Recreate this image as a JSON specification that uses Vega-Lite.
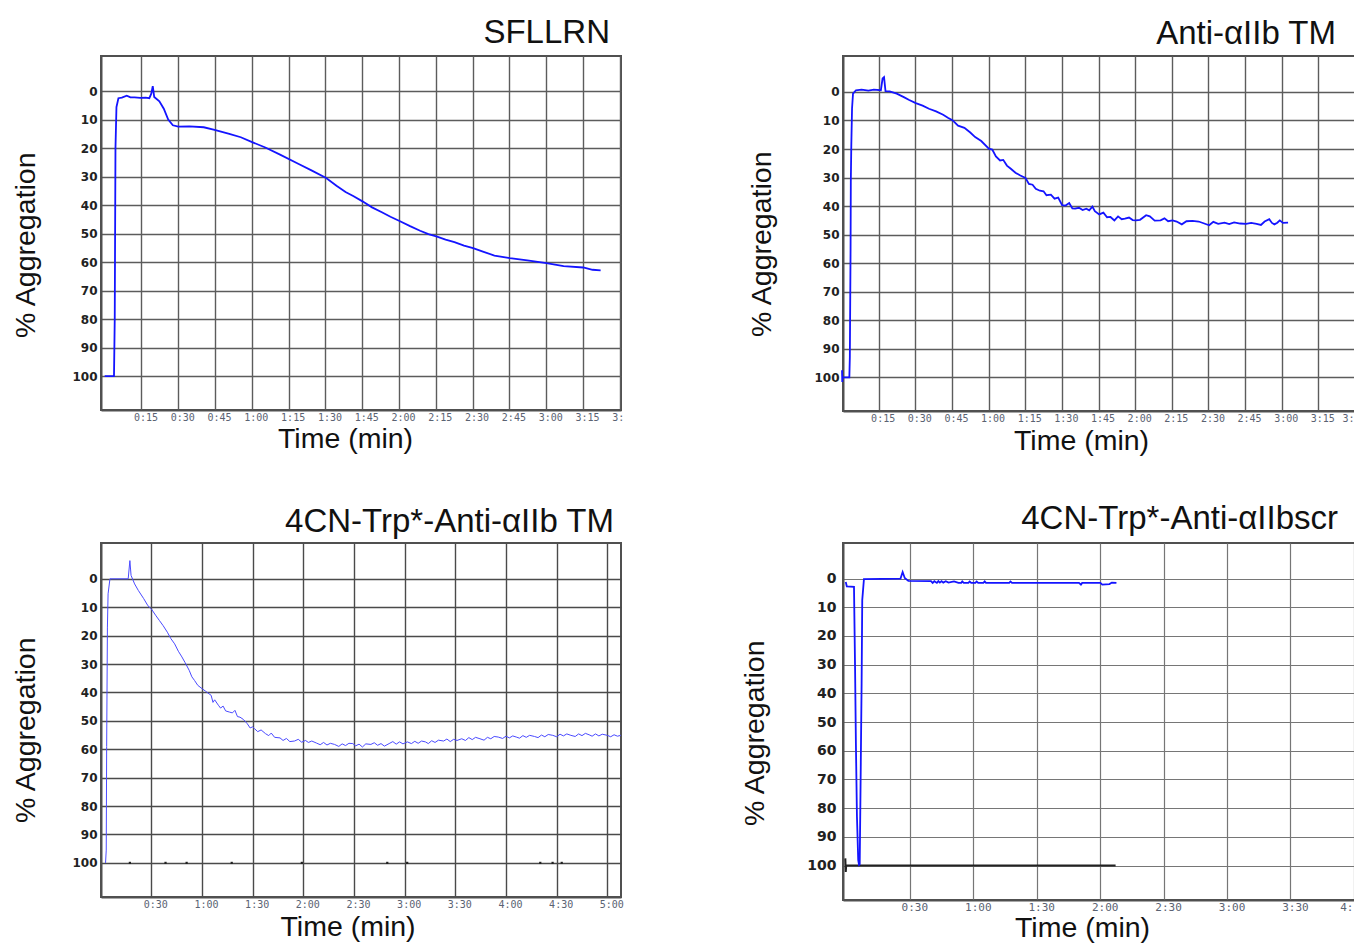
{
  "$schema": "https://vega.github.io/schema/vega-lite/v6.json",
  "background": "white",
  "padding": {"left": 10, "top": 15, "right": 0, "bottom": 0},
  "columns": 2,
  "spacing": {"row": 132, "column": 222},
  "bounds": "flush",
  "align": "each",
  "config": {
    "view": {"stroke": "#505050", "strokeWidth": 2, "fill": "white"},
    "axis": {"zindex": 1, "grid": true, "gridColor": "#5c5c5c", "gridWidth": 1.4, "gridOpacity": 1, "ticks": false, "domain": true, "domainColor": "#505050", "domainWidth": 2, "labelOverlap": false, "labelBound": false, "labelFlush": false, "titleFontWeight": "normal", "titleColor": "#111111", "titleFont": "Liberation Sans", "titleFontSize": 28.5},
    "axisX": {"labelFont": "DejaVu Sans Mono", "labelFontSize": 10, "labelColor": "#5a6272", "labelPadding": 2, "labelBaseline": "top", "titleBaseline": "alphabetic", "titleAlign": "center", "titleAngle": 0},
    "axisY": {"labelFont": "DejaVu Sans", "labelFontWeight": "bold", "labelFontSize": 12, "labelColor": "#222222", "labelPadding": 4, "titleAngle": -90, "titleAlign": "center", "titleBaseline": "alphabetic"},
    "title": {"font": "Liberation Sans", "fontSize": 33, "fontWeight": "normal", "anchor": "end", "frame": "group", "color": "#111111", "baseline": "alphabetic"}
  },
  "datasets": {
    "sfllrn": [
      {"t": 0, "v": 100}, {"t": 3.8, "v": 100}, {"t": 4.1, "v": 80}, {"t": 4.4, "v": 20}, {"t": 4.8, "v": 5.6}, {"t": 5.6, "v": 2.5}, {"t": 7, "v": 2.3}, {"t": 9, "v": 1.6}, {"t": 10.5, "v": 2.2}, {"t": 12.2, "v": 2.2}, {"t": 14.5, "v": 2.4}, {"t": 16.7, "v": 2.3}, {"t": 18.2, "v": 2.5}, {"t": 19, "v": 0.9}, {"t": 19.6, "v": -1.75}, {"t": 20.2, "v": 2.1}, {"t": 22.3, "v": 3.6}, {"t": 24.1, "v": 6.2}, {"t": 25.9, "v": 10}, {"t": 27.8, "v": 12}, {"t": 30, "v": 12.5}, {"t": 34.5, "v": 12.4}, {"t": 40.4, "v": 12.7}, {"t": 44.8, "v": 13.6}, {"t": 50.8, "v": 15}, {"t": 55.5, "v": 16.2}, {"t": 60.1, "v": 17.9}, {"t": 65.5, "v": 19.8}, {"t": 71.5, "v": 22.3}, {"t": 78.9, "v": 25.5}, {"t": 84.5, "v": 27.9}, {"t": 90.3, "v": 30.5}, {"t": 94.5, "v": 33.2}, {"t": 98.2, "v": 35.4}, {"t": 101.5, "v": 36.9}, {"t": 105.1, "v": 38.7}, {"t": 109, "v": 40.8}, {"t": 113, "v": 42.5}, {"t": 116.5, "v": 44.1}, {"t": 120.2, "v": 45.6}, {"t": 124.5, "v": 47.4}, {"t": 128.6, "v": 49}, {"t": 132, "v": 50.2}, {"t": 135.2, "v": 51}, {"t": 139, "v": 52.1}, {"t": 142.6, "v": 53}, {"t": 146.5, "v": 54.2}, {"t": 150.2, "v": 55.1}, {"t": 154.5, "v": 56.4}, {"t": 158.9, "v": 57.7}, {"t": 165.2, "v": 58.6}, {"t": 172.3, "v": 59.4}, {"t": 180.1, "v": 60.4}, {"t": 187.1, "v": 61.4}, {"t": 195.1, "v": 61.9}, {"t": 198.9, "v": 62.7}, {"t": 202.2, "v": 62.9}
    ],
    "anti": [
      {"t": 0, "v": 97.5}, {"t": 0.1, "v": 101.6}, {"t": 0.2, "v": 100}, {"t": 2.7, "v": 100}, {"t": 3.0, "v": 100}, {"t": 3.2, "v": 93}, {"t": 3.5, "v": 55}, {"t": 3.6, "v": 31.6}, {"t": 3.8, "v": 18.7}, {"t": 4.1, "v": 5.8}, {"t": 4.5, "v": 0.6}, {"t": 5.7, "v": -0.6}, {"t": 8, "v": -0.8}, {"t": 10.8, "v": -0.5}, {"t": 13, "v": -0.8}, {"t": 15.9, "v": -0.6}, {"t": 16.6, "v": -4.7}, {"t": 17.2, "v": -5.2}, {"t": 17.8, "v": -0.3}, {"t": 19.5, "v": -0.2}, {"t": 22.4, "v": 0.6}, {"t": 25.3, "v": 1.8}, {"t": 27.5, "v": 2.8}, {"t": 30.2, "v": 3.9}, {"t": 33, "v": 4.8}, {"t": 35.6, "v": 5.9}, {"t": 38.5, "v": 6.8}, {"t": 41.4, "v": 8}, {"t": 43.5, "v": 9.1}, {"t": 45.2, "v": 9.9}, {"t": 47.5, "v": 11.8}, {"t": 50.1, "v": 12.6}, {"t": 52.5, "v": 14.2}, {"t": 54.5, "v": 15.8}, {"t": 57, "v": 17.2}, {"t": 60.1, "v": 19.9}, {"t": 61.5, "v": 20.2}, {"t": 63, "v": 22.6}, {"t": 64.7, "v": 24}, {"t": 66, "v": 23.8}, {"t": 67.5, "v": 25.8}, {"t": 69.1, "v": 26.9}, {"t": 71, "v": 28.3}, {"t": 73, "v": 29.3}, {"t": 75.1, "v": 30.1}, {"t": 76.5, "v": 32.2}, {"t": 78, "v": 32.5}, {"t": 79.3, "v": 33.9}, {"t": 81, "v": 34.6}, {"t": 82.5, "v": 34.8}, {"t": 83.7, "v": 36.2}, {"t": 85.5, "v": 36.0}, {"t": 87, "v": 37.4}, {"t": 88.5, "v": 37.0}, {"t": 90.1, "v": 39.7}, {"t": 91.5, "v": 39.8}, {"t": 93, "v": 38.9}, {"t": 94.3, "v": 40.8}, {"t": 95.4, "v": 40.9}, {"t": 97, "v": 40.6}, {"t": 98.5, "v": 41.4}, {"t": 100, "v": 40.9}, {"t": 101.2, "v": 41.5}, {"t": 102.5, "v": 40.2}, {"t": 103.5, "v": 41.8}, {"t": 105.3, "v": 42.9}, {"t": 107, "v": 42.3}, {"t": 108.5, "v": 43.9}, {"t": 109.9, "v": 43.8}, {"t": 111.5, "v": 45.0}, {"t": 113, "v": 43.6}, {"t": 114.5, "v": 44.6}, {"t": 115.8, "v": 44.4}, {"t": 117.5, "v": 44.0}, {"t": 119, "v": 44.9}, {"t": 120.3, "v": 45}, {"t": 122, "v": 44.8}, {"t": 124.5, "v": 43.2}, {"t": 126, "v": 43.6}, {"t": 128, "v": 45.1}, {"t": 130.4, "v": 45}, {"t": 132, "v": 44.3}, {"t": 133.5, "v": 45.3}, {"t": 135.3, "v": 45}, {"t": 137, "v": 45.4}, {"t": 139.1, "v": 46.4}, {"t": 141, "v": 45.3}, {"t": 143.5, "v": 45.2}, {"t": 146, "v": 45.4}, {"t": 148, "v": 46.0}, {"t": 150.3, "v": 46.7}, {"t": 152, "v": 45.5}, {"t": 154, "v": 46.2}, {"t": 156.6, "v": 45.8}, {"t": 158.5, "v": 46.3}, {"t": 160.5, "v": 45.7}, {"t": 163, "v": 46.1}, {"t": 165.4, "v": 46.2}, {"t": 167.5, "v": 45.9}, {"t": 169.7, "v": 46.2}, {"t": 171.5, "v": 46.6}, {"t": 173, "v": 45.4}, {"t": 174.9, "v": 44.6}, {"t": 176, "v": 45.9}, {"t": 177, "v": 46.4}, {"t": 178.2, "v": 45.8}, {"t": 179.2, "v": 45}, {"t": 180.5, "v": 45.9}, {"t": 182.6, "v": 45.8}
    ],
    "cn": [
      {"t": 2.9, "v": 100}, {"t": 3.3, "v": 95.5}, {"t": 3.55, "v": 59}, {"t": 4.0, "v": 17}, {"t": 4.4, "v": 5.3}, {"t": 5.5, "v": 0}, {"t": 16.3, "v": 0}, {"t": 17.3, "v": -6.4}, {"t": 18.0, "v": -1.2}, {"t": 20.1, "v": 1.8}, {"t": 22.3, "v": 4.1}, {"t": 25.5, "v": 7}, {"t": 28, "v": 9.5}, {"t": 30, "v": 10.6}, {"t": 32.5, "v": 12.8}, {"t": 34.8, "v": 14.7}, {"t": 37, "v": 16.5}, {"t": 39.5, "v": 18.8}, {"t": 41.5, "v": 21}, {"t": 43.8, "v": 22.9}, {"t": 46, "v": 25.5}, {"t": 48.1, "v": 27.5}, {"t": 50, "v": 29.5}, {"t": 52.4, "v": 32.2}, {"t": 54, "v": 34.5}, {"t": 55.6, "v": 35.8}, {"t": 57.5, "v": 37.5}, {"t": 60.1, "v": 38.7}, {"t": 62, "v": 39.5}, {"t": 63.5, "v": 40.2}, {"t": 65.4, "v": 41}, {"t": 66.5, "v": 43.5}, {"t": 67.5, "v": 42.6}, {"t": 69.7, "v": 44.5}, {"t": 71, "v": 45.5}, {"t": 72.5, "v": 44.8}, {"t": 74, "v": 46.5}, {"t": 76.2, "v": 46.9}, {"t": 78, "v": 47.2}, {"t": 79.5, "v": 46.3}, {"t": 81, "v": 48.5}, {"t": 82.5, "v": 48.7}, {"t": 84.5, "v": 49.5}, {"t": 86.8, "v": 51}, {"t": 88.5, "v": 52.5}, {"t": 90, "v": 52.1}, {"t": 91.2, "v": 52.8}, {"t": 93, "v": 53.8}, {"t": 95, "v": 53.2}, {"t": 97.6, "v": 54.5}, {"t": 99.5, "v": 55.2}, {"t": 101, "v": 54.3}, {"t": 103, "v": 55.8}, {"t": 106.2, "v": 56}, {"t": 108, "v": 56.9}, {"t": 110, "v": 56.2}, {"t": 112, "v": 57.3}, {"t": 114.8, "v": 57.1}, {"t": 117, "v": 56.5}, {"t": 119, "v": 57.5}, {"t": 121.3, "v": 56.9}, {"t": 123, "v": 57.6}, {"t": 125, "v": 57.1}, {"t": 127.7, "v": 57.8}, {"t": 130, "v": 58.4}, {"t": 132, "v": 57.6}, {"t": 134, "v": 58.5}, {"t": 136, "v": 57.9}, {"t": 138.5, "v": 58.3}, {"t": 141, "v": 59.0}, {"t": 143, "v": 58.1}, {"t": 145, "v": 58.7}, {"t": 147, "v": 57.9}, {"t": 149.3, "v": 58}, {"t": 151, "v": 58.8}, {"t": 153, "v": 58.2}, {"t": 155, "v": 59.2}, {"t": 157, "v": 58.1}, {"t": 160, "v": 58.3}, {"t": 162, "v": 57.7}, {"t": 164, "v": 58.6}, {"t": 166, "v": 58.0}, {"t": 168, "v": 58.9}, {"t": 170.8, "v": 58}, {"t": 173, "v": 57.3}, {"t": 175, "v": 58.2}, {"t": 177, "v": 57.4}, {"t": 179, "v": 58.1}, {"t": 181.6, "v": 57.4}, {"t": 184, "v": 58.0}, {"t": 186, "v": 57.2}, {"t": 188, "v": 57.9}, {"t": 190, "v": 57.1}, {"t": 192.3, "v": 57.4}, {"t": 194, "v": 58.0}, {"t": 196, "v": 57.0}, {"t": 198, "v": 57.6}, {"t": 200, "v": 56.8}, {"t": 203.1, "v": 57.1}, {"t": 205, "v": 56.4}, {"t": 207, "v": 57.3}, {"t": 209, "v": 56.5}, {"t": 211, "v": 56.9}, {"t": 213.8, "v": 56.3}, {"t": 216, "v": 56.9}, {"t": 218, "v": 55.9}, {"t": 220, "v": 56.6}, {"t": 222, "v": 55.8}, {"t": 224.6, "v": 56.3}, {"t": 227, "v": 56.8}, {"t": 229, "v": 55.8}, {"t": 231, "v": 56.3}, {"t": 233, "v": 55.5}, {"t": 235.4, "v": 55.7}, {"t": 238, "v": 56.2}, {"t": 240, "v": 55.4}, {"t": 242, "v": 56.0}, {"t": 244, "v": 55.3}, {"t": 246.1, "v": 55.7}, {"t": 248, "v": 56.1}, {"t": 250, "v": 55.2}, {"t": 252, "v": 55.8}, {"t": 254, "v": 55.1}, {"t": 256.9, "v": 55.5}, {"t": 259, "v": 55.9}, {"t": 261, "v": 55.0}, {"t": 263, "v": 55.6}, {"t": 265, "v": 54.8}, {"t": 267.7, "v": 55.1}, {"t": 270, "v": 55.6}, {"t": 272, "v": 54.7}, {"t": 274, "v": 55.3}, {"t": 276, "v": 54.6}, {"t": 278.4, "v": 55.1}, {"t": 281, "v": 55.5}, {"t": 283, "v": 54.6}, {"t": 285, "v": 55.2}, {"t": 287, "v": 54.4}, {"t": 289.2, "v": 54.9}, {"t": 291, "v": 55.4}, {"t": 293, "v": 54.6}, {"t": 295, "v": 55.3}, {"t": 297, "v": 54.7}, {"t": 300, "v": 55.1}, {"t": 302, "v": 55.6}, {"t": 304, "v": 54.9}, {"t": 306, "v": 55.4}, {"t": 308, "v": 55.1}
    ],
    "cndots": [
      {"t": 17.3, "v": 100}, {"t": 38.4, "v": 100}, {"t": 50.9, "v": 100}, {"t": 77.6, "v": 100}, {"t": 119.1, "v": 100}, {"t": 169.7, "v": 100}, {"t": 181.5, "v": 100}, {"t": 260.3, "v": 100}, {"t": 267.6, "v": 100}, {"t": 273, "v": 100}
    ],
    "scr": [
      {"t": -0.3, "v": 1.2}, {"t": 0.2, "v": 2.7}, {"t": 3.6, "v": 2.9}, {"t": 4.1, "v": 30.8}, {"t": 4.5, "v": 57.5}, {"t": 5.0, "v": 83}, {"t": 5.6, "v": 98.1}, {"t": 6.0, "v": 99.8}, {"t": 6.3, "v": 99.6}, {"t": 6.8, "v": 65.6}, {"t": 7.2, "v": 36.6}, {"t": 7.5, "v": 7.5}, {"t": 8.3, "v": 0.2}, {"t": 25.6, "v": 0}, {"t": 26.6, "v": -2.3}, {"t": 27.6, "v": -0.2}, {"t": 29.3, "v": 0.8}, {"t": 40, "v": 0.9}, {"t": 40.8, "v": 1.5}, {"t": 41.6, "v": 0.9}, {"t": 42.8, "v": 1.5}, {"t": 43.5, "v": 0.9}, {"t": 44.2, "v": 1.4}, {"t": 45, "v": 0.9}, {"t": 45.8, "v": 1.4}, {"t": 47, "v": 0.9}, {"t": 48.3, "v": 1.4}, {"t": 50.9, "v": 1.0}, {"t": 53, "v": 1.5}, {"t": 54.3, "v": 1.5}, {"t": 54.8, "v": 1.0}, {"t": 55.5, "v": 1.5}, {"t": 57.7, "v": 1.5}, {"t": 58.3, "v": 1.0}, {"t": 59, "v": 1.5}, {"t": 61, "v": 1.5}, {"t": 61.6, "v": 1.0}, {"t": 62.3, "v": 1.5}, {"t": 64.8, "v": 1.5}, {"t": 65.4, "v": 1.0}, {"t": 66, "v": 1.5}, {"t": 77, "v": 1.5}, {"t": 77.6, "v": 1.0}, {"t": 78.3, "v": 1.5}, {"t": 110, "v": 1.5}, {"t": 110.9, "v": 2.1}, {"t": 111.5, "v": 1.5}, {"t": 120.1, "v": 1.5}, {"t": 121, "v": 2.1}, {"t": 124.4, "v": 1.9}, {"t": 125.5, "v": 1.4}, {"t": 127.7, "v": 1.5}
    ],
    "scrbase": [
      {"t": -0.5, "v": 97.5}, {"t": -0.3, "v": 102.2}, {"t": -0.1, "v": 100}, {"t": 127.3, "v": 100}
    ]
  },
  "concat": [
    {
      "width": 520, "height": 354,
      "title": {"text": "SFLLRN", "dx": -11, "offset": 6.5},
      "encoding": {
        "x": {"field": "t", "type": "quantitative", "scale": {"domain": [-1.5, 210.5], "nice": false, "zero": false},
          "axis": {"values": [15, 30, 45, 60, 75, 90, 105, 120, 135, 150, 165, 180, 195, 210],
            "labelExpr": "datum.value >= 210 ? '3:' : floor(datum.value/60) + ':' + (datum.value % 60 < 10 ? '0' : '') + (datum.value % 60)",
            "labelAlign": {"condition": {"test": "datum.value >= 210", "value": "left"}, "value": "center"},
            "labelOffset": {"condition": {"test": "datum.value >= 210", "value": -8}, "value": 4},
            "title": "Time (min)", "titleX": 244, "titleY": 37.7}},
        "y": {"field": "v", "type": "quantitative", "scale": {"domain": [-12.3, 111.9], "reverse": true, "nice": false, "zero": false},
          "axis": {"values": [0, 10, 20, 30, 40, 50, 60, 70, 80, 90, 100], "title": "% Aggregation", "titleX": -67, "titleY": 188.7}}
      },
      "layer": [
        {"data": {"name": "sfllrn"}, "mark": {"type": "line", "color": "#1414ff", "strokeWidth": 1.8}}
      ]
    },
    {
      "width": 512, "height": 355,
      "title": {"text": "Anti-αIIb TM", "dx": -19, "offset": 5.5},
      "encoding": {
        "x": {"field": "t", "type": "quantitative", "scale": {"domain": [0.4, 210], "nice": false, "zero": false},
          "axis": {"values": [15, 30, 45, 60, 75, 90, 105, 120, 135, 150, 165, 180, 195, 210],
            "labelExpr": "datum.value >= 210 ? '3:' : floor(datum.value/60) + ':' + (datum.value % 60 < 10 ? '0' : '') + (datum.value % 60)",
            "labelAlign": {"condition": {"test": "datum.value >= 210", "value": "right"}, "value": "center"},
            "labelOffset": {"condition": {"test": "datum.value >= 210", "value": -1}, "value": 4},
            "title": "Time (min)", "titleX": 238, "titleY": 38.7}},
        "y": {"field": "v", "type": "quantitative", "scale": {"domain": [-12.6, 111.8], "reverse": true, "nice": false, "zero": false},
          "axis": {"values": [0, 10, 20, 30, 40, 50, 60, 70, 80, 90, 100], "title": "% Aggregation", "titleX": -73, "titleY": 187.7}}
      },
      "layer": [
        {"data": {"name": "anti"}, "mark": {"type": "line", "color": "#1414ff", "strokeWidth": 1.8}}
      ]
    },
    {
      "width": 520, "height": 354,
      "title": {"text": "4CN-Trp*-Anti-αIIb TM", "dx": -7, "offset": 4.5},
      "encoding": {
        "x": {"field": "t", "type": "quantitative", "scale": {"domain": [0.2, 308.1], "nice": false, "zero": false},
          "axis": {"values": [30, 60, 90, 120, 150, 180, 210, 240, 270, 300],
            "labelExpr": "floor(datum.value/60) + ':' + (datum.value % 60 < 10 ? '0' : '') + (datum.value % 60)",
            "labelOffset": 4,
            "gridColor": "#4a4a4a",
            "title": "Time (min)", "titleX": 246.5, "titleY": 38}},
        "y": {"field": "v", "type": "quantitative", "scale": {"domain": [-12.6, 112], "reverse": true, "nice": false, "zero": false},
          "axis": {"values": [0, 10, 20, 30, 40, 50, 60, 70, 80, 90, 100], "title": "% Aggregation", "titleX": -67, "titleY": 186.7, "gridColor": "#4a4a4a"}}
      },
      "layer": [
        {"data": {"name": "cn"}, "mark": {"type": "line", "color": "#4a4aff", "strokeWidth": 1}},
        {"data": {"name": "cndots"}, "mark": {"type": "square", "color": "#222222", "size": 5, "opacity": 1}}
      ]
    },
    {
      "width": 512, "height": 357,
      "title": {"text": "4CN-Trp*-Anti-αIIbscr", "dx": -17, "offset": 7.5},
      "encoding": {
        "x": {"field": "t", "type": "quantitative", "scale": {"domain": [-1.6, 240.5], "nice": false, "zero": false},
          "axis": {"values": [30, 60, 90, 120, 150, 180, 210, 240],
            "labelExpr": "datum.value >= 240 ? '4:' : floor(datum.value/60) + ':' + (datum.value % 60 < 10 ? '0' : '') + (datum.value % 60)",
            "labelAlign": {"condition": {"test": "datum.value >= 240", "value": "right"}, "value": "center"},
            "labelOffset": {"condition": {"test": "datum.value >= 240", "value": -1}, "value": 4.5},
            "labelFontSize": 11, "labelPadding": 1,
            "gridColor": "#767676", "gridWidth": 1.2,
            "title": "Time (min)", "titleX": 239, "titleY": 36.5}},
        "y": {"field": "v", "type": "quantitative", "scale": {"domain": [-12.4, 112], "reverse": true, "nice": false, "zero": false},
          "axis": {"values": [0, 10, 20, 30, 40, 50, 60, 70, 80, 90, 100], "title": "% Aggregation", "titleX": -80, "titleY": 189.7, "labelFontSize": 14, "labelPadding": 7, "gridColor": "#767676", "gridWidth": 1.2}}
      },
      "layer": [
        {"data": {"name": "scrbase"}, "mark": {"type": "line", "color": "#222222", "strokeWidth": 2}},
        {"data": {"name": "scr"}, "mark": {"type": "line", "color": "#1414ff", "strokeWidth": 1.8}}
      ]
    }
  ]
}
